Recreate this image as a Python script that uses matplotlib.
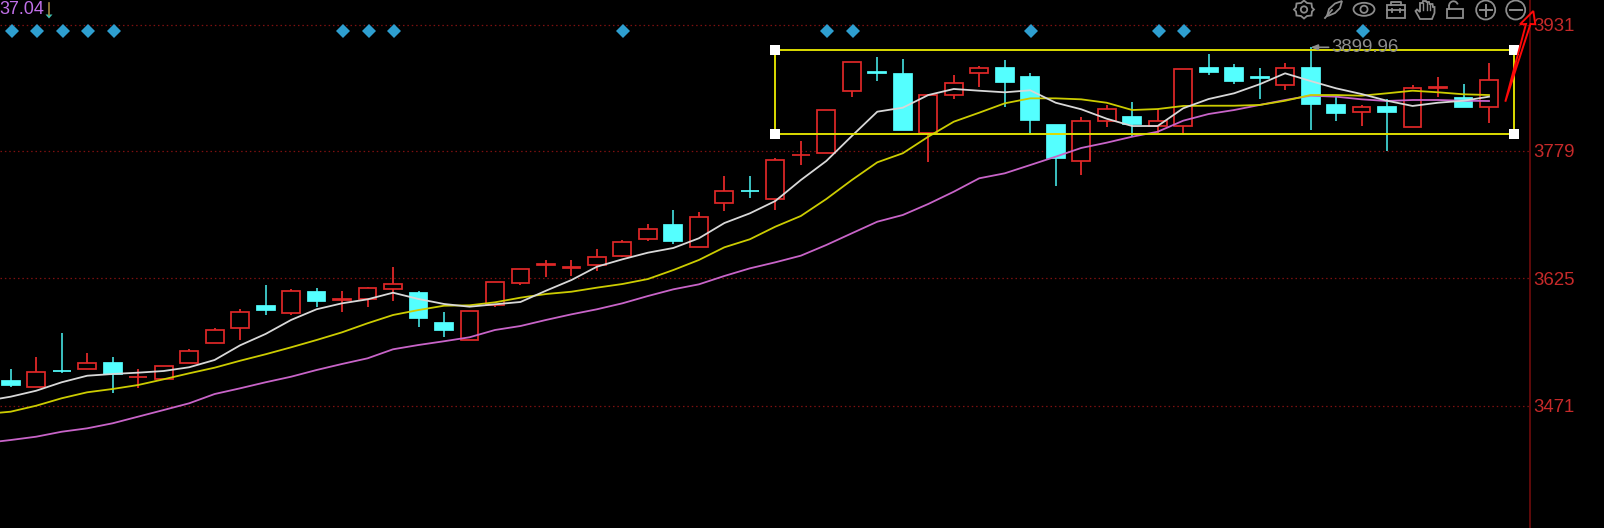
import numpy as np
import matplotlib
matplotlib.use('Agg')
import matplotlib.pyplot as plt
from matplotlib.patches import Circle, Ellipse, Polygon, Rectangle, Arc

plt.rcParams['font.family'] = ['Liberation Sans', 'DejaVu Sans']

# candles, oldest first
opens = [3501.0, 3494.2, 3513.6, 3515.9, 3522.7, 3505.4, 3503.4, 3523.1, 3546.9, 3564.6,
         3591.6, 3583.1, 3608.1, 3598.7, 3599.6, 3612.1, 3607.6, 3571.4, 3550.5, 3592.8,
         3619.3, 3640.9, 3637.8, 3641.0, 3651.9, 3672.1, 3689.0, 3663.1, 3715.5, 3730.9,
         3720.7, 3773.3, 3776.6, 3851.0, 3873.7, 3871.9, 3800.7, 3845.9, 3872.8, 3879.2,
         3868.3, 3810.4, 3766.2, 3815.2, 3819.3, 3808.8, 3809.2, 3879.2, 3879.2, 3867.6,
         3858.3, 3879.2, 3833.8, 3825.7, 3831.8, 3807.6, 3854.5, 3842.2, 3831.4]
highs = [3515.5, 3529.6, 3558.6, 3535.2, 3529.6, 3515.2, 3519.1, 3539.3, 3564.6, 3587.6,
         3616.9, 3611.7, 3613.3, 3609.3, 3614.9, 3638.3, 3609.7, 3584.3, 3585.5, 3620.2,
         3636.2, 3647.1, 3647.1, 3660.0, 3671.2, 3690.9, 3707.4, 3705.4, 3748.8, 3748.8,
         3770.6, 3790.4, 3828.1, 3886.1, 3891.7, 3890.0, 3847.1, 3870.0, 3881.2, 3888.5,
         3872.4, 3810.4, 3819.3, 3834.2, 3837.8, 3829.3, 3877.3, 3895.7, 3883.3, 3879.2,
         3884.9, 3903.8, 3844.2, 3834.2, 3841.0, 3857.9, 3868.3, 3859.5, 3884.5]
lows = [3493.8, 3494.2, 3510.3, 3515.9, 3486.9, 3492.2, 3503.1, 3522.4, 3546.5, 3550.5,
        3581.0, 3581.0, 3590.0, 3584.7, 3590.0, 3597.6, 3566.6, 3553.8, 3550.2, 3590.0,
        3616.9, 3626.2, 3627.8, 3633.4, 3651.1, 3669.6, 3666.4, 3662.4, 3706.2, 3722.3,
        3707.4, 3762.1, 3776.6, 3843.5, 3863.5, 3803.6, 3765.7, 3841.4, 3856.2, 3832.1,
        3799.2, 3736.8, 3749.3, 3807.2, 3795.9, 3800.4, 3799.2, 3870.4, 3859.5, 3841.8,
        3852.3, 3803.6, 3814.5, 3808.8, 3778.3, 3807.6, 3843.5, 3831.4, 3812.8]
closes = [3496.2, 3511.5, 3512.6, 3522.4, 3509.5, 3506.4, 3518.8, 3536.9, 3562.2, 3584.0,
          3586.4, 3609.3, 3597.2, 3599.7, 3612.9, 3618.1, 3577.4, 3563.0, 3585.5, 3620.2,
          3636.2, 3641.9, 3638.8, 3650.7, 3668.8, 3684.9, 3670.0, 3699.3, 3730.4, 3729.9,
          3768.1, 3774.3, 3828.1, 3886.1, 3872.7, 3803.6, 3846.6, 3860.7, 3878.8, 3861.6,
          3816.4, 3769.8, 3815.2, 3829.7, 3810.9, 3815.2, 3877.3, 3874.4, 3863.5, 3866.6,
          3878.8, 3835.0, 3824.1, 3831.8, 3825.7, 3855.0, 3855.5, 3831.4, 3864.3]

# moving averages, first value is one bar before the first candle
ma_white = [3476.9, 3482.1, 3489.3, 3499.5, 3507.4, 3509.5, 3511.1, 3513.1, 3517.6, 3526.4,
            3544.1, 3557.8, 3574.7, 3587.6, 3594.8, 3599.6, 3607.6, 3600.0, 3594.0, 3590.7,
            3593.6, 3596.4, 3610.0, 3622.9, 3639.0, 3647.9, 3655.9, 3661.6, 3673.3, 3691.7,
            3703.4, 3718.3, 3743.6, 3766.6, 3796.7, 3826.1, 3830.9, 3846.2, 3853.5, 3851.4,
            3849.5, 3851.9, 3836.9, 3829.0, 3817.6, 3808.8, 3808.8, 3830.2, 3841.4, 3848.3,
            3859.2, 3872.4, 3863.1, 3854.3, 3847.4, 3839.3, 3833.0, 3836.9, 3839.3, 3844.2]
ma_yellow = [3461.2, 3464.0, 3471.2, 3480.2, 3487.4, 3491.4, 3496.2, 3503.1, 3510.3, 3517.1,
             3525.5, 3533.3, 3541.7, 3550.5, 3559.8, 3570.7, 3580.7, 3586.7, 3591.9, 3592.4,
             3596.0, 3601.6, 3606.0, 3608.8, 3613.7, 3618.1, 3624.1, 3635.0, 3647.1, 3662.4,
             3672.1, 3687.3, 3700.2, 3720.7, 3743.6, 3765.0, 3775.9, 3795.9, 3814.0, 3824.9,
             3836.2, 3842.2, 3842.2, 3841.0, 3836.9, 3828.1, 3829.3, 3833.0, 3833.3, 3833.3,
             3834.2, 3839.3, 3846.2, 3846.2, 3845.4, 3848.3, 3851.4, 3849.5, 3847.1, 3846.2]
ma_magenta = [3426.2, 3429.8, 3433.8, 3439.8, 3443.9, 3450.0, 3458.0, 3466.0, 3474.1, 3485.3,
              3492.2, 3499.5, 3506.2, 3514.3, 3521.6, 3528.4, 3539.3, 3544.5, 3549.0, 3553.8,
              3562.6, 3567.4, 3574.7, 3581.5, 3587.6, 3594.8, 3603.6, 3611.7, 3617.7, 3627.8,
              3637.0, 3644.3, 3652.3, 3665.2, 3679.3, 3693.3, 3701.4, 3714.7, 3729.5, 3745.7,
              3751.7, 3761.7, 3771.8, 3782.3, 3788.7, 3795.9, 3801.9, 3815.2, 3823.3, 3828.1,
              3834.2, 3840.2, 3845.4, 3844.2, 3841.0, 3839.0, 3840.2, 3840.2, 3839.3, 3839.0]

price_ticks = [3931, 3779, 3625, 3471]
signal_bars = [0, 1, 2, 3, 4, 13, 14, 15, 24, 32, 33, 40, 45, 46, 53]
signal_price = 3923.5
box_bars = [30, 59]
box_prices = [3900.3, 3798.8]
peak_label = '3899.96'
corner_label = '37.04'

RED = '#e02828'
CYAN = '#54ffff'
CYAN_WICK = '#40d0d0'
ICON = '#8c8c8c'

fig = plt.figure(figsize=(16.04, 5.28), dpi=100, facecolor='black')

# price chart runs up to the axis line at x=1530
ax = fig.add_axes([0, 0, 1530.3 / 1604, 1], facecolor='black')
ax.set_xlim(-0.42, 59.62)
ax.set_ylim(3323.6, 3960.9)

for side in ['left', 'top', 'bottom']:
    ax.spines[side].set_visible(False)
ax.spines['right'].set_color('#7a0c0c')
ax.spines['right'].set_linewidth(1.1)
ax.set_xticks([])
ax.yaxis.tick_right()
ax.set_yticks(price_ticks)
ax.set_yticklabels([str(p) for p in price_ticks])
ax.tick_params(axis='y', length=0, pad=2.2, labelsize=13.4, labelcolor='#c62a2a')

for p in price_ticks:
    ax.axhline(p, color='#7e1010', lw=0.9, ls=(0, (1.2, 2.3)), zorder=1)

bars = np.arange(len(opens))
for i in bars:
    up = closes[i] >= opens[i]
    ax.vlines(i, lows[i], highs[i], color=RED if up else CYAN_WICK, lw=1.3, zorder=2)
    bottom = min(opens[i], closes[i])
    height = abs(closes[i] - opens[i])
    ax.bar(i, height, bottom=bottom, width=0.7,
           facecolor='black' if up else CYAN,
           edgecolor=RED if up else CYAN,
           linewidth=1.25, zorder=3)

ma_x = np.arange(-1, len(opens))
ax.plot(ma_x, ma_magenta, color='#c864c8', lw=1.3, zorder=4)
ax.plot(ma_x, ma_yellow, color='#cccc00', lw=1.3, zorder=5)
ax.plot(ma_x, ma_white, color='#d8d8d8', lw=1.3, zorder=6)

ax.plot(np.array(signal_bars) + 0.04, [signal_price] * len(signal_bars), ls='none',
        marker='D', ms=7.2, color='#2e9fd0', mew=0, zorder=7)

# selection box with corner handles
ax.add_patch(Rectangle((box_bars[0], box_prices[1]), box_bars[1] - box_bars[0],
                       box_prices[0] - box_prices[1], fill=False,
                       edgecolor='#dcdc00', lw=1.4, zorder=8))
ax.plot([box_bars[0], box_bars[0], box_bars[1], box_bars[1]],
        [box_prices[0], box_prices[1], box_prices[0], box_prices[1]],
        ls='none', marker='s', ms=6.8, color='white', mew=0, zorder=9)

ax.annotate(peak_label, xy=(51, highs[51]), xytext=(15, 0), textcoords='offset points',
            fontsize=13.4, color='#8e8e8e', va='center', ha='left', zorder=10,
            arrowprops=dict(arrowstyle='-|>,head_width=0.12,head_length=0.3',
                            color='#8e8e8e', lw=1.2, shrinkA=0, shrinkB=0))

# overlay in screen pixels for the toolbar and drawing tools
top = fig.add_axes([0, 0, 1, 1], facecolor='none')
top.set_xlim(0, 1604)
top.set_ylim(528, 0)
top.axis('off')

top.text(-1, 9.5, corner_label, fontsize=13, color='#c070e8', va='center', ha='left')
top.plot([49, 49], [3, 15], color='#a08a40', lw=1.2)
top.add_patch(Polygon([(45.5, 14.5), (52.5, 14.5), (49, 18.5)], color='#40c0b0', lw=0))

# red arrow tool
top.add_patch(Polygon([(1505.3, 101.7), (1526, 24), (1520, 24.3), (1533.3, 11),
                       (1535.3, 24.3), (1530.5, 24)], closed=True, fill=False,
                      edgecolor='#ff0808', lw=1.4, zorder=12))


def stroke(patch):
    patch.set(fill=False, edgecolor=ICON, lw=1.3)
    top.add_patch(patch)


# gear
stroke(Polygon([(1304, 0.5), (1307, 3), (1311.5, 3.5), (1312, 7.5), (1314, 9.5), (1312, 11.5),
                (1311.5, 15.5), (1307, 16), (1304, 18.5), (1301, 16), (1296.5, 15.5), (1296, 11.5),
                (1294, 9.5), (1296, 7.5), (1296.5, 3.5), (1301, 3)]))
stroke(Circle((1304, 9.5), 3.2))
# feather
stroke(Polygon([(1327, 16), (1329, 9), (1335, 3.5), (1342, 1), (1340, 8), (1335, 13), (1329, 15.5)]))
top.plot([1325, 1332], [18, 10], color=ICON, lw=1.3)
# eye
stroke(Ellipse((1364, 9.3), 21, 13))
stroke(Circle((1364, 9.3), 3.6))
# briefcase
stroke(Rectangle((1386.5, 4.5), 18.5, 13))
top.plot([1391, 1391, 1400.5, 1400.5], [4.5, 1.5, 1.5, 4.5], color=ICON, lw=1.3)
top.plot([1386.5, 1405], [10, 10], color=ICON, lw=1.3)
top.plot([1392, 1392], [8.5, 12], color=ICON, lw=1.3)
top.plot([1399.5, 1399.5], [8.5, 12], color=ICON, lw=1.3)
# hand
stroke(Polygon([(1420, 19), (1415.5, 11), (1417, 9.5), (1420, 12), (1420, 3), (1422.5, 3), (1423, 1),
                (1426, 1), (1426.5, 2), (1429, 2), (1429.5, 4), (1432.5, 4), (1433, 7), (1434.5, 7),
                (1434.5, 13), (1432, 19)]))
top.plot([1423, 1423], [3, 10], color=ICON, lw=1.0)
top.plot([1426.5, 1426.5], [2, 10], color=ICON, lw=1.0)
top.plot([1429.8, 1429.8], [4, 10], color=ICON, lw=1.0)
# open lock
stroke(Rectangle((1447, 8.5), 15.5, 9))
stroke(Arc((1453.5, 6), 9, 9.5, theta1=180, theta2=340))
top.plot([1449, 1449], [6, 8.5], color=ICON, lw=1.3)
# plus and minus
stroke(Circle((1485.7, 10), 9.5))
top.plot([1480, 1491.5], [10, 10], color=ICON, lw=1.4)
top.plot([1485.7, 1485.7], [4.5, 15.5], color=ICON, lw=1.4)
stroke(Circle((1515.7, 10), 9.5))
top.plot([1510, 1521.5], [10, 10], color=ICON, lw=1.4)

fig.savefig('out.png', dpi=100, facecolor='black')
